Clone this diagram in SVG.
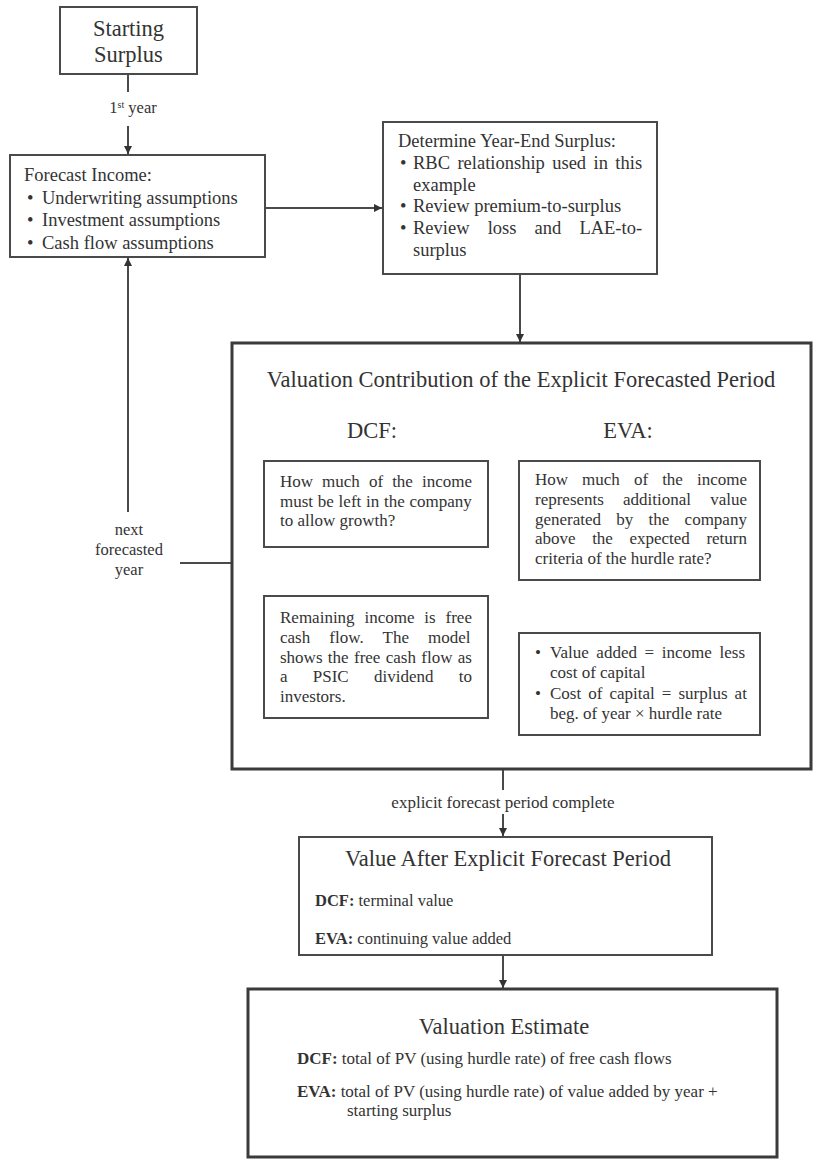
<svg xmlns="http://www.w3.org/2000/svg" width="813" height="1159" viewBox="0 0 813 1159">
<defs>
<style>
.bx{fill:#fff;stroke:#4a4a4a;stroke-width:2}
.bxt{fill:#fff;stroke:#3a3a3a;stroke-width:3}
.ln{fill:none;stroke:#4a4a4a;stroke-width:2}
text{font-family:"Liberation Serif","Times New Roman",serif;fill:#333}
.t18{font-size:18.5px}
.t17{font-size:17px}
.t16{font-size:16.5px}
.big{font-size:22.5px}
.b{font-weight:bold}
</style>
<marker id="ah" markerUnits="userSpaceOnUse" markerWidth="9" markerHeight="9" refX="8" refY="4" orient="auto">
<path d="M0,0 L8,4 L0,8 z" fill="#333"/>
</marker>
</defs>
<rect width="813" height="1159" fill="#fff"/>

<g id="connectors">
<path class="ln" d="M128,74 V92 M128,126 V154" marker-end="url(#ah)"/>
<path class="ln" d="M265,208 H382" marker-end="url(#ah)"/>
<path class="ln" d="M520,274 V342" marker-end="url(#ah)"/>
<path class="ln" d="M232,563 H180"/>
<path class="ln" d="M128,512 V258" marker-end="url(#ah)"/>
<path class="ln" d="M367,547 V595" marker-end="url(#ah)"/>
<path class="ln" d="M640,580 V632" marker-end="url(#ah)"/>
<path class="ln" d="M503,769 V790 M503,814 V836" marker-end="url(#ah)"/>
<path class="ln" d="M503,955 V988" marker-end="url(#ah)"/>
<text class="t16" x="133" y="113" text-anchor="middle">1<tspan font-size="10" baseline-shift="super">st</tspan> year</text>
<text class="t16" x="129" y="535" text-anchor="middle">next</text>
<text class="t16" x="129" y="555" text-anchor="middle">forecasted</text>
<text class="t16" x="129" y="575" text-anchor="middle">year</text>
<text class="t17" x="503" y="808" text-anchor="middle">explicit forecast period complete</text>
</g>

<g id="starting-surplus">
<rect class="bx" x="60" y="7" width="137" height="67"/>
<text class="big" x="128.5" y="36" text-anchor="middle">Starting</text>
<text class="big" x="128.5" y="62" text-anchor="middle">Surplus</text>
</g>

<g id="forecast-income">
<rect class="bx" x="10" y="155" width="255" height="102"/>
<text class="t18" x="24" y="181">Forecast Income:</text>
<text class="t18" x="27" y="203.5">•</text>
<text class="t18" x="42" y="203.5">Underwriting assumptions</text>
<text class="t18" x="27" y="226">•</text>
<text class="t18" x="42" y="226">Investment assumptions</text>
<text class="t18" x="27" y="248.5">•</text>
<text class="t18" x="42" y="248.5">Cash flow assumptions</text>
</g>

<g id="year-end-surplus">
<rect class="bx" x="383" y="122" width="274" height="152"/>
<text class="t18" x="398" y="147">Determine Year-End Surplus:</text>
<text class="t18" x="400" y="169">•</text>
<text class="t18" x="413" y="169" word-spacing="2.8">RBC relationship used in this</text>
<text class="t18" x="413" y="190.5">example</text>
<text class="t18" x="400" y="212">•</text>
<text class="t18" x="413" y="212">Review premium-to-surplus</text>
<text class="t18" x="400" y="234">•</text>
<text class="t18" x="413" y="234" word-spacing="13.5">Review loss and LAE-to-</text>
<text class="t18" x="413" y="255.5">surplus</text>
</g>

<g id="explicit-period">
<rect class="bxt" x="232" y="343" width="579" height="426"/>
<text class="big" x="521" y="387" text-anchor="middle">Valuation Contribution of the Explicit Forecasted Period</text>
<text class="big" x="372" y="438" text-anchor="middle">DCF:</text>
<text class="big" x="628" y="438" text-anchor="middle">EVA:</text>
</g>

<g id="dcf-question">
<rect class="bx" x="264" y="461" width="224" height="86"/>
<text class="t17" x="280" y="487" word-spacing="4.8">How much of the income</text>
<text class="t17" x="280" y="506.5" word-spacing="0.5">must be left in the company</text>
<text class="t17" x="280" y="526">to allow growth?</text>
</g>

<g id="dcf-answer">
<rect class="bx" x="264" y="596" width="224" height="122"/>
<text class="t17" x="280" y="623" word-spacing="5.6">Remaining income is free</text>
<text class="t17" x="280" y="643" word-spacing="14.9">cash flow. The model</text>
<text class="t17" x="280" y="662.5" word-spacing="1.1">shows the free cash flow as</text>
<text class="t17" x="280" y="682" word-spacing="21">a PSIC dividend to</text>
<text class="t17" x="280" y="701.5">investors.</text>
</g>

<g id="eva-question">
<rect class="bx" x="519" y="461" width="241" height="119"/>
<text class="t17" x="535" y="485" word-spacing="9.8">How much of the income</text>
<text class="t17" x="535" y="505" word-spacing="14.9">represents additional value</text>
<text class="t17" x="535" y="524.5" word-spacing="11">generated by the company</text>
<text class="t17" x="535" y="544" word-spacing="12.3">above the expected return</text>
<text class="t17" x="535" y="563.5">criteria of the hurdle rate?</text>
</g>

<g id="eva-answer">
<rect class="bx" x="519" y="633" width="241" height="102"/>
<text class="t17" x="535" y="658">•</text>
<text class="t17" x="550" y="658" word-spacing="3.4">Value added = income less</text>
<text class="t17" x="550" y="678">cost of capital</text>
<text class="t17" x="535" y="699">•</text>
<text class="t17" x="550" y="699" word-spacing="2.8">Cost of capital = surplus at</text>
<text class="t17" x="550" y="719">beg. of year × hurdle rate</text>
</g>

<g id="value-after">
<rect class="bx" x="299" y="837" width="413" height="118"/>
<text class="big" x="508" y="866" text-anchor="middle">Value After Explicit Forecast Period</text>
<text class="t16" x="315" y="906"><tspan class="b">DCF:</tspan> terminal value</text>
<text class="t16" x="315" y="944"><tspan class="b">EVA:</tspan> continuing value added</text>
</g>

<g id="valuation-estimate">
<rect class="bxt" x="248" y="989" width="529" height="168"/>
<text class="big" x="504" y="1034" text-anchor="middle">Valuation Estimate</text>
<text class="t17" x="297" y="1064"><tspan class="b">DCF:</tspan> total of PV (using hurdle rate) of free cash flows</text>
<text class="t17" x="297" y="1097"><tspan class="b">EVA:</tspan> total of PV (using hurdle rate) of value added by year +</text>
<text class="t17" x="347" y="1116">starting surplus</text>
</g>
</svg>
